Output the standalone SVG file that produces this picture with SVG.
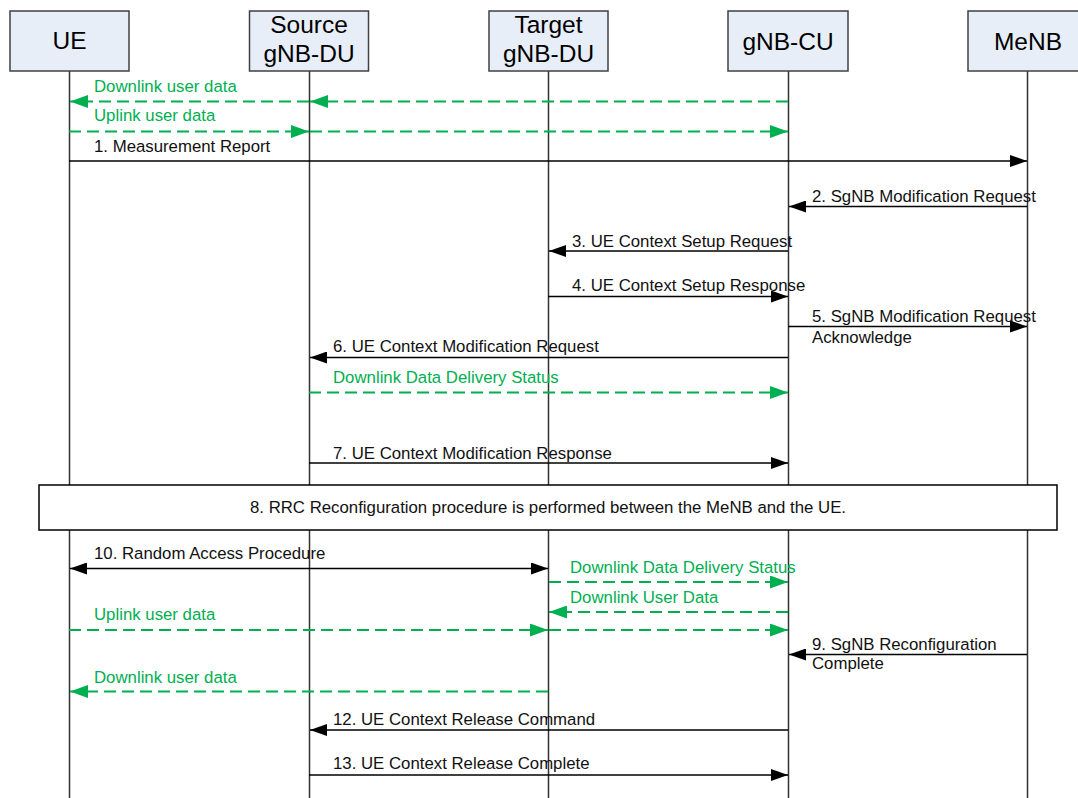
<svg xmlns="http://www.w3.org/2000/svg" width="1078" height="798" viewBox="0 0 1078 798">
<style>
.box{fill:#E8EEF8;stroke:#404040;stroke-width:1.5}
.life{stroke:#333;stroke-width:1.5;fill:none}
.hdr{font-family:"Liberation Sans",Arial,sans-serif;font-size:24.5px;fill:#000;text-anchor:middle}
.lbl{font-family:"Liberation Sans",Arial,sans-serif;font-size:16.8px;fill:#111}
.glbl{font-family:"Liberation Sans",Arial,sans-serif;font-size:16.8px;fill:#00B050}
.msg{stroke:#000;stroke-width:1.5;fill:none;marker-end:url(#ab)}
.gmsg{stroke:#00B050;stroke-width:2;stroke-dasharray:12 6;fill:none;marker-end:url(#ag)}
</style>
<defs>
<marker id="ab" markerUnits="userSpaceOnUse" markerWidth="17" markerHeight="12" refX="17" refY="6" orient="auto-start-reverse">
<path d="M0,0 L17,6 L0,12 Z" fill="#000"/>
</marker>
<marker id="ag" markerUnits="userSpaceOnUse" markerWidth="18" markerHeight="13" refX="18" refY="6.5" orient="auto">
<path d="M0,0 L18,6.5 L0,13 Z" fill="#00B050"/>
</marker>
</defs>

<g id="ue">
<line class="life" x1="69.5" y1="71" x2="69.5" y2="798"/>
<rect class="box" x="10" y="11" width="119" height="60"/>
<text class="hdr" x="69.5" y="49">UE</text>
</g>
<g id="source-du">
<line class="life" x1="309.5" y1="71" x2="309.5" y2="798"/>
<rect class="box" x="249.5" y="11" width="119" height="60"/>
<text class="hdr" x="309" y="33">Source</text>
<text class="hdr" x="309" y="62">gNB-DU</text>
</g>
<g id="target-du">
<line class="life" x1="548.5" y1="71" x2="548.5" y2="798"/>
<rect class="box" x="489" y="11" width="119" height="60"/>
<text class="hdr" x="548.5" y="33">Target</text>
<text class="hdr" x="548.5" y="62">gNB-DU</text>
</g>
<g id="gnb-cu">
<line class="life" x1="788.5" y1="71" x2="788.5" y2="798"/>
<rect class="box" x="728" y="11" width="120" height="60"/>
<text class="hdr" x="788" y="50">gNB-CU</text>
</g>
<g id="menb">
<line class="life" x1="1027.5" y1="71" x2="1027.5" y2="798"/>
<rect class="box" x="968" y="11" width="120" height="60"/>
<text class="hdr" x="1028" y="50">MeNB</text>
</g>

<g id="rrc-reconfig">
<rect x="39" y="485" width="1018" height="45" fill="#fff" stroke="#000" stroke-width="1.5"/>
<text class="lbl" x="548" y="513" text-anchor="middle">8. RRC Reconfiguration procedure is performed between the MeNB and the UE.</text>
</g>

<g id="connectors">
<line class="gmsg" x1="788" y1="101.5" x2="310" y2="101.5"/>
<line class="gmsg" x1="309" y1="101.5" x2="70" y2="101.5"/>
<text class="glbl" x="94" y="92">Downlink user data</text>
<line class="gmsg" x1="69" y1="131.5" x2="309" y2="131.5"/>
<line class="gmsg" x1="310" y1="131.5" x2="788" y2="131.5"/>
<text class="glbl" x="94" y="121">Uplink user data</text>
<line class="msg" x1="69" y1="161" x2="1027" y2="161"/>
<text class="lbl" x="94" y="152">1. Measurement Report</text>
<line class="msg" x1="1027" y1="206.5" x2="789" y2="206.5"/>
<text class="lbl" x="812" y="202">2. SgNB Modification Request</text>
<line class="msg" x1="788" y1="251" x2="549" y2="251"/>
<text class="lbl" x="572" y="247">3. UE Context Setup Request</text>
<line class="msg" x1="548" y1="296.5" x2="788" y2="296.5"/>
<text class="lbl" x="572" y="291">4. UE Context Setup Response</text>
<line class="msg" x1="788" y1="326.5" x2="1027" y2="326.5"/>
<text class="lbl" x="812" y="322">5. SgNB Modification Request</text>
<text class="lbl" x="812" y="343">Acknowledge</text>
<line class="msg" x1="788" y1="357.5" x2="310" y2="357.5"/>
<text class="lbl" x="333" y="352">6. UE Context Modification Request</text>
<line class="gmsg" x1="309" y1="392.5" x2="788" y2="392.5"/>
<text class="glbl" x="333" y="383">Downlink Data Delivery Status</text>
<line class="msg" x1="309" y1="463" x2="788" y2="463"/>
<text class="lbl" x="333" y="459">7. UE Context Modification Response</text>
<line class="msg" x1="70" y1="568.5" x2="548" y2="568.5" style="marker-start:url(#ab)"/>
<text class="lbl" x="94" y="559">10. Random Access Procedure</text>
<line class="gmsg" x1="549" y1="582" x2="788" y2="582"/>
<text class="glbl" x="570" y="573">Downlink Data Delivery Status</text>
<line class="gmsg" x1="788" y1="612" x2="549" y2="612"/>
<text class="glbl" x="570" y="603">Downlink User Data</text>
<line class="gmsg" x1="69" y1="630" x2="548" y2="630"/>
<line class="gmsg" x1="549" y1="630" x2="788" y2="630"/>
<text class="glbl" x="94" y="620">Uplink user data</text>
<line class="msg" x1="1027" y1="654.5" x2="789" y2="654.5"/>
<text class="lbl" x="812" y="650">9. SgNB Reconfiguration</text>
<text class="lbl" x="812" y="669">Complete</text>
<line class="gmsg" x1="548" y1="691.5" x2="70" y2="691.5"/>
<text class="glbl" x="94" y="683">Downlink user data</text>
<line class="msg" x1="788" y1="730" x2="310" y2="730"/>
<text class="lbl" x="333" y="725">12. UE Context Release Command</text>
<line class="msg" x1="309" y1="775" x2="788" y2="775"/>
<text class="lbl" x="333" y="769">13. UE Context Release Complete</text>
</g>
</svg>
